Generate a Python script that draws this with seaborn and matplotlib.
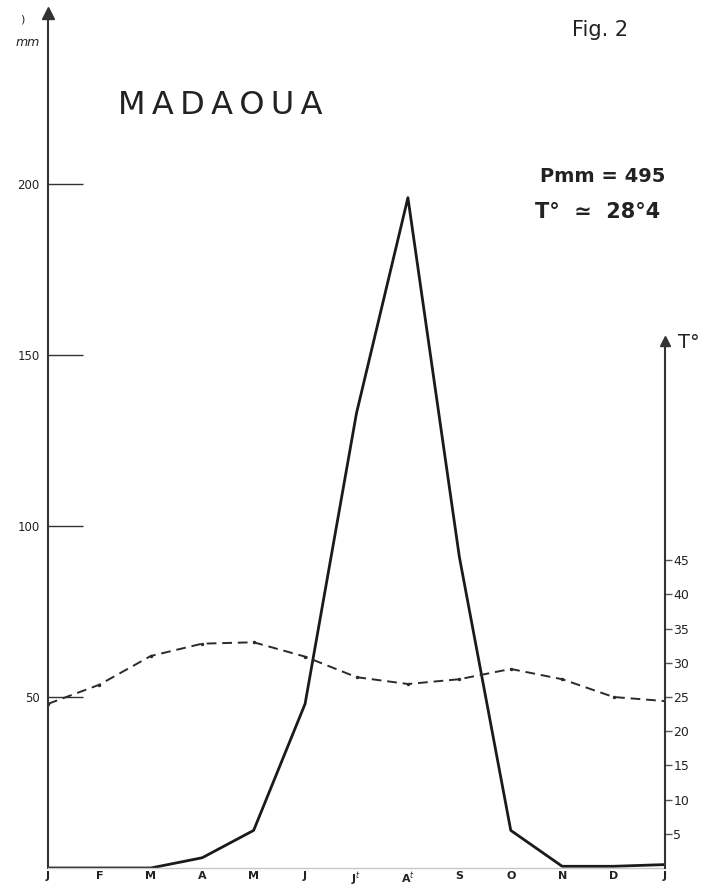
import matplotlib
matplotlib.use("Agg")
import matplotlib.pyplot as plt
import numpy as np
import pandas as pd
import seaborn as sns

# ---- data ----
months = ["J", "F", "M", "A", "M", "J", "J$^{t}$", "A$^{t}$", "S", "O", "N", "D", "J"]
precip_mm = [0, 0, 0, 3, 11, 48, 133, 196, 91, 11, 0.5, 0.5, 1]
temp_c = [24, 26.8, 31, 32.8, 33, 30.9, 27.9, 26.9, 27.6, 29.1, 27.6, 25, 24.4]
left_ticks = [50, 100, 150, 200]
right_ticks = [5, 10, 15, 20, 25, 30, 35, 40, 45]

sns.set_style("white")
plt.rcParams["font.family"] = ["DejaVu Sans"]

W, H = 705, 889
fig = plt.figure(figsize=(W / 100, H / 100), dpi=100)

def fx(x):
    return x / W

def fy(y):
    return 1 - y / H

ax = fig.add_axes([fx(48), 21 / H, 617 / W, 855 / H])
df = pd.DataFrame({"pos": np.arange(len(months)), "P": precip_mm, "T": temp_c})

sns.lineplot(data=df, x="pos", y="P", ax=ax, color="#1a1a1a", lw=2.0)
ax.set_xlim(0, 12)
ax.set_ylim(0, 250)

ax2 = ax.twinx()
sns.lineplot(data=df, x="pos", y="T", ax=ax2, color="#2a2a2a", lw=1.4,
             linestyle=(0, (5, 3)), marker="o", markersize=2.5,
             markeredgewidth=0)
ax2.set_ylim(0, 125)

# spines
for s in ["top", "right"]:
    ax.spines[s].set_visible(False)
ax.spines["left"].set_color("#333333")
ax.spines["left"].set_linewidth(1.5)
ax.spines["bottom"].set_color("#c8c8c8")
ax.spines["bottom"].set_linewidth(1.0)
for s in ["top", "left", "bottom"]:
    ax2.spines[s].set_visible(False)
ax2.spines["right"].set_color("#333333")
ax2.spines["right"].set_linewidth(1.5)
ax2.spines["right"].set_bounds(0, 77)

# ticks
ax.set_yticks(left_ticks)
ax.set_yticklabels([str(v) for v in left_ticks])
ax.tick_params(axis="y", direction="in", length=25, width=1.0, color="#333333",
               labelsize=8.5, pad=6, left=True, labelcolor="#222222")
ax.set_xticks(df["pos"])
ax.set_xticklabels(months, fontsize=8, fontweight="bold")
ax.tick_params(axis="x", length=0, pad=2, labelcolor="#222222")

ax2.set_yticks(right_ticks)
ax2.set_yticklabels([str(v) for v in right_ticks])
ax2.tick_params(axis="y", direction="out", length=5, width=1.0, color="#555555",
                labelsize=9, pad=1, right=True, labelcolor="#222222")

ax.set_xlabel("")
ax.set_ylabel("")
ax2.set_ylabel("")

# arrow heads
ax.plot([0], [250], marker="^", ms=8, color="#333333", clip_on=False)
ax2.plot([12], [77], marker="^", ms=7, color="#333333", clip_on=False)

# texts
fig.text(fx(118), fy(105), "M\u2009A\u2009D\u2009A\u2009O\u2009U\u2009A",
         fontsize=23, ha="left", va="center", color="#222222")
fig.text(fx(572), fy(30), "Fig. 2", fontsize=15, ha="left", va="center",
         color="#222222")
fig.text(fx(540), fy(176), "Pmm = 495", fontsize=14, fontweight="bold",
         ha="left", va="center", color="#222222")
fig.text(fx(535), fy(212), "T°  ≃  28°4", fontsize=15, fontweight="bold",
         ha="left", va="center", color="#222222")
fig.text(fx(678), fy(343), "T°", fontsize=14, ha="left", va="center",
         color="#222222")
fig.text(fx(16), fy(42), "mm", fontsize=9, fontstyle="italic", ha="left",
         va="center", color="#222222")
fig.text(fx(20), fy(20), ")", fontsize=8, ha="left", va="center",
         color="#222222")

fig.savefig("out.png", dpi=100)
